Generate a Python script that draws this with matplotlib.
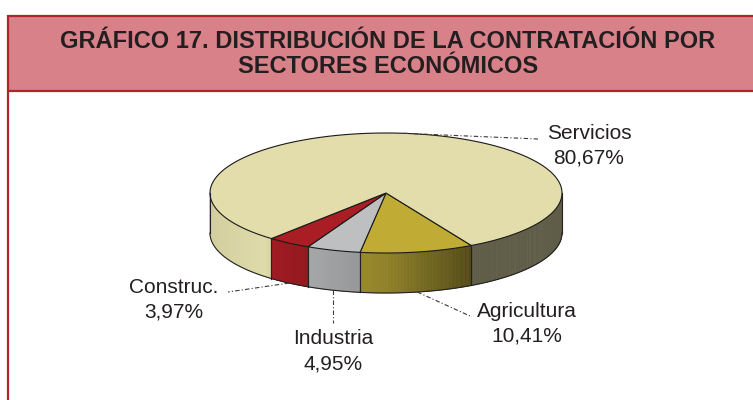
import numpy as np
import matplotlib
matplotlib.use("Agg")
import matplotlib.pyplot as plt
from matplotlib.patches import Polygon, Rectangle
from matplotlib.colors import to_rgb

plt.rcParams["font.family"] = ["Liberation Sans", "DejaVu Sans"]

# data, in drawing order (clockwise from the right-front)
sectors = ["Agricultura", "Industria", "Construc.", "Servicios"]
shares = [10.41, 4.95, 3.97, 80.67]
share_labels = ["10,41%", "4,95%", "3,97%", "80,67%"]
top_colors = ["#C0AC34", "#BEBFC1", "#A91D24", "#E2DDAA"]

title_lines = ["GRÁFICO 17. DISTRIBUCIÓN DE LA CONTRATACIÓN POR",
               "SECTORES ECONÓMICOS"]

# layout (pixel space of the 753x400 picture)
cx, cy = 386, 193
rx, ry = 176, 60
depth = 40
start_deg = 61
label_pos = {"Servicios": (589, 139), "Agricultura": (527, 317),
             "Industria": (333, 344), "Construc.": (174, 293)}
leader_end = {"Servicios": (538, 139), "Agricultura": (470, 316),
              "Industria": (None, 323), "Construc.": (228, 292)}

TEXT = "#231F20"
RED = "#B3232B"


def ell(t):
    t = np.radians(t)
    return cx + rx * np.cos(t), cy + ry * np.sin(t)


def shade(xn):
    return np.interp(xn, [-1, -0.7, -0.6, 0, 0.5, 1],
                     [0.93, 0.99, 0.92, 0.75, 0.42, 0.42])


def visible(t0, t1):
    out = []
    for lo, hi in [(0, 180), (360, 540)]:
        a, b = max(t0, lo), min(t1, hi)
        if b > a:
            out.append((a, b))
    return out


fig = plt.figure(figsize=(7.53, 4.0), dpi=100)
ax = fig.add_axes([0, 0, 1, 1])
ax.set_xlim(0, 753)
ax.set_ylim(400, 0)
ax.axis("off")

# frame and title band
ax.add_patch(Rectangle((8, 16), 760, 75, facecolor="#D98189", edgecolor="none"))
ax.plot([8, 770], [16, 16], color=RED, lw=1.6, solid_capstyle="butt")
ax.plot([8, 770], [91, 91], color=RED, lw=1.6, solid_capstyle="butt")
ax.plot([8, 8], [15.4, 402], color=RED, lw=1.6, solid_capstyle="butt")
for i, line in enumerate(title_lines):
    ax.text(388, 48 + 25 * i, line, ha="center", va="baseline",
            fontsize=17, fontweight="bold", color=TEXT)

# slice angles
spans = np.array(shares) / sum(shares) * 360
edges = start_deg + np.concatenate([[0], np.cumsum(spans)])

# side walls
for k in range(len(sectors)):
    base = np.array(to_rgb(top_colors[k]))
    for a, b in visible(edges[k], edges[k + 1]):
        ts = np.linspace(a, b, 80)
        for t0, t1 in zip(ts[:-1], ts[1:]):
            x0, y0 = ell(t0)
            x1, y1 = ell(t1)
            xn = ((x0 + x1) / 2 - cx) / rx
            c = np.clip(base * shade(xn), 0, 1)
            ax.add_patch(Polygon([(x0, y0), (x1, y1), (x1, y1 + depth), (x0, y0 + depth)],
                                 closed=True, facecolor=c, edgecolor=c, lw=0.5))
        xs, ys = ell(ts)
        ax.plot(xs, ys + depth, color="#222222", lw=0.8)
        for t in (a, b):
            x, y = ell(t)
            ax.plot([x, x], [y, y + depth], color="#222222", lw=0.8)

# top face
for k in range(len(sectors)):
    ts = np.linspace(edges[k], edges[k + 1], 200)
    xs, ys = ell(ts)
    pts = [(cx, cy)] + list(zip(xs, ys))
    ax.add_patch(Polygon(pts, closed=True, facecolor=top_colors[k],
                         edgecolor="#1a1a1a", lw=0.8, joinstyle="round"))

# labels and leader lines
for k, name in enumerate(sectors):
    mid = (edges[k] + edges[k + 1]) / 2
    ax_, ay_ = ell(mid)
    if np.sin(np.radians(mid)) > 0:
        ay_ += depth
    ex, ey = leader_end[name]
    if ex is None:
        ex = ax_
    ax.plot([ax_, ex], [ay_, ey], color="#3a3a3a", lw=0.8,
            linestyle=(0, (4, 2, 1, 2)))
    lx, ly = label_pos[name]
    ax.text(lx, ly, name, ha="center", va="baseline", fontsize=15, color=TEXT)
    ax.text(lx, ly + 25, share_labels[k], ha="center", va="baseline",
            fontsize=15, color=TEXT)

fig.savefig("out.png", dpi=100)
